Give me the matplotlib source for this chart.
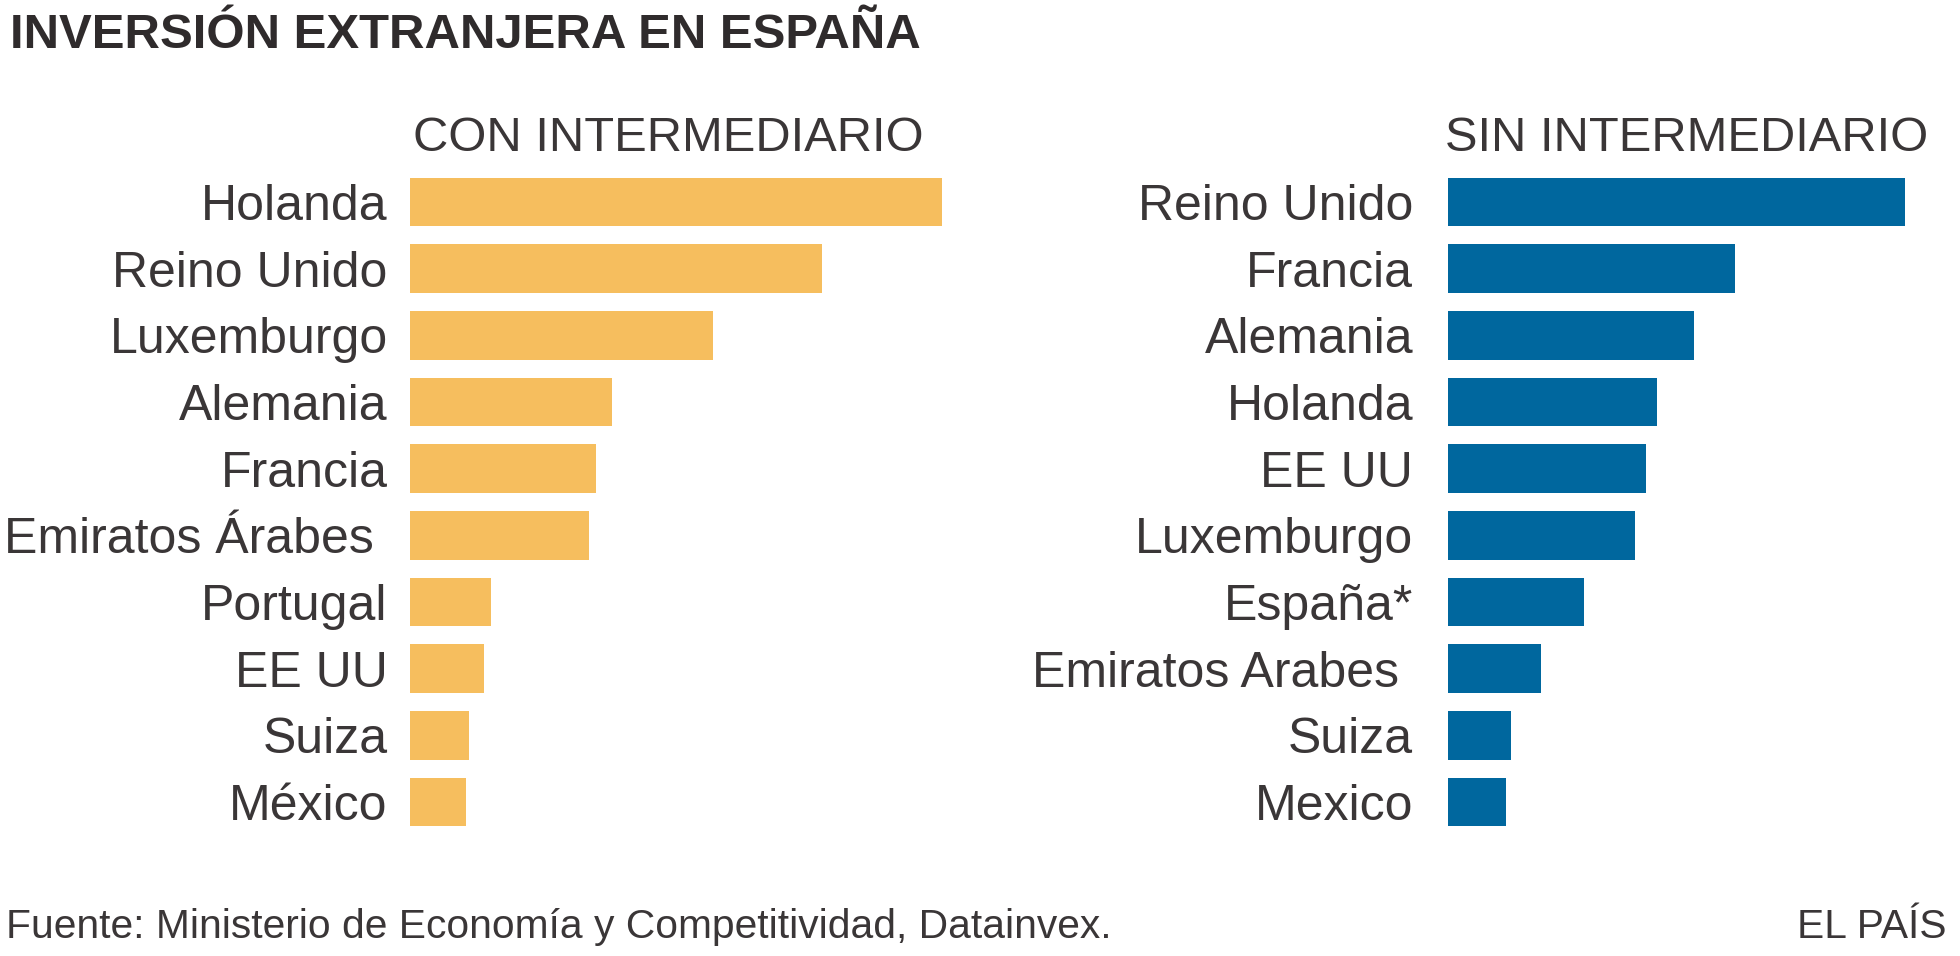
import matplotlib
matplotlib.use("Agg")
import matplotlib.pyplot as plt

# data (relative bar lengths, no axis in the original)
con_paises = ["Holanda", "Reino Unido", "Luxemburgo", "Alemania", "Francia",
              "Emiratos Árabes ", "Portugal", "EE UU", "Suiza", "México"]
con_valores = [532, 412, 303, 202, 186, 179, 81, 74, 59, 56]

sin_paises = ["Reino Unido", "Francia", "Alemania", "Holanda", "EE UU",
              "Luxemburgo", "España*", "Emiratos Arabes ", "Suiza", "Mexico"]
sin_valores = [457, 287, 246, 209, 198, 187, 136, 93, 63, 58]

naranja = "#F6BE5E"
azul = "#00679E"
texto = "#3a3637"
fuente = ["Liberation Sans", "DejaVu Sans"]

W, H = 1960, 956
fig = plt.figure(figsize=(W / 100, H / 100), dpi=100)
fig.patch.set_facecolor("white")


def panel(x0, ancho, paises, valores, color, pad):
    # axes placed in pixel units of the figure
    y_top, y_bot = 168.7, 835.3
    ax = fig.add_axes([x0 / W, 1 - y_bot / H, ancho / W, (y_bot - y_top) / H])
    pos = list(range(len(paises)))
    ax.barh(pos, valores, height=0.73, color=color)
    ax.set_xlim(0, ancho)
    ax.set_ylim(len(paises) - 0.5, -0.5)
    ax.set_yticks(pos)
    ax.set_yticklabels(paises, fontsize=36, color=texto, family=fuente)
    ax.tick_params(axis="y", length=0, pad=pad)
    ax.set_xticks([])
    for s in ax.spines.values():
        s.set_visible(False)
    return ax


panel(410, 540, con_paises, con_valores, naranja, 16)
panel(1448, 470, sin_paises, sin_valores, azul, 25)

fig.text(10 / W, 1 - 13 / H, "INVERSIÓN EXTRANJERA EN ESPAÑA", fontsize=35.4,
         fontweight="bold", color="#2f2b2c", family=fuente, va="top", ha="left")
fig.text(413 / W, 1 - 151 / H, "CON INTERMEDIARIO", fontsize=35.2, color=texto,
         family=fuente, va="baseline", ha="left")
fig.text(1445 / W, 1 - 151 / H, "SIN INTERMEDIARIO", fontsize=35.2, color=texto,
         family=fuente, va="baseline", ha="left")
fig.text(6 / W, 1 - 938 / H, "Fuente: Ministerio de Economía y Competitividad, Datainvex.",
         fontsize=29.3, color=texto, family=fuente, va="baseline", ha="left")
fig.text(1946 / W, 1 - 938 / H, "EL PAÍS", fontsize=29.3, color=texto,
         family=fuente, va="baseline", ha="right")

fig.savefig("out.png", dpi=100, facecolor="white")
